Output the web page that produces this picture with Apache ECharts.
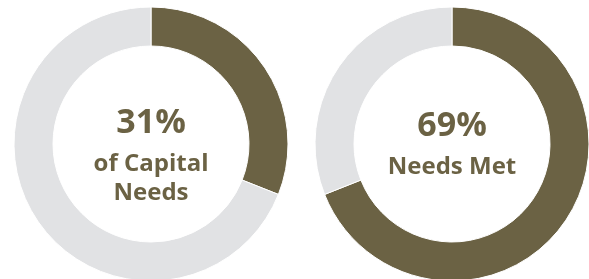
<!DOCTYPE html>
<html>
<head>
<meta charset="utf-8">
<script src="https://cdn.jsdelivr.net/npm/echarts@6/dist/echarts.min.js"></script>
<style>
  html, body { margin: 0; padding: 0; background: #fff; }
  #container { width: 589px; height: 279px; }
</style>
</head>
<body>
<div id="container"></div>
<script>
var dom = document.getElementById('container');
var myChart = echarts.init(dom, null, { renderer: 'canvas' });

// data
const capitalNeeds = [31, 69];   // [met, remaining]
const needsMet = [69, 31];
const capitalLabels = ['31%', 'of Capital', 'Needs'];
const metLabels = ['69%', 'Needs Met'];

const brown = '#6b6244';
const gray = '#e1e2e4';
const font = '"Open Sans", "Noto Sans", sans-serif';

function donut(center, values) {
  return {
    type: 'pie',
    center: center,
    radius: [98, 137],
    startAngle: 90,
    clockwise: true,
    silent: true,
    label: { show: false },
    labelLine: { show: false },
    itemStyle: { borderColor: '#fff', borderWidth: 1 },
    data: [
      { value: values[0], itemStyle: { color: brown } },
      { value: values[1], itemStyle: { color: gray } }
    ]
  };
}

function txt(x, y, s, size) {
  return {
    type: 'text', x: x, y: y,
    style: {
      text: s, fill: brown, fontFamily: font, fontWeight: 'bold',
      fontSize: size, align: 'center', verticalAlign: 'middle'
    }
  };
}

var option = {
  animation: false,
  series: [
    donut([151, 144], capitalNeeds),
    donut([452, 144], needsMet)
  ],
  graphic: [
    txt(151, 123, capitalLabels[0], 34),
    txt(151, 164, capitalLabels[1], 24),
    txt(151, 193, capitalLabels[2], 24),
    txt(452, 126, metLabels[0], 34),
    txt(452, 167, metLabels[1], 24)
  ]
};

myChart.setOption(option);
</script>
</body>
</html>
